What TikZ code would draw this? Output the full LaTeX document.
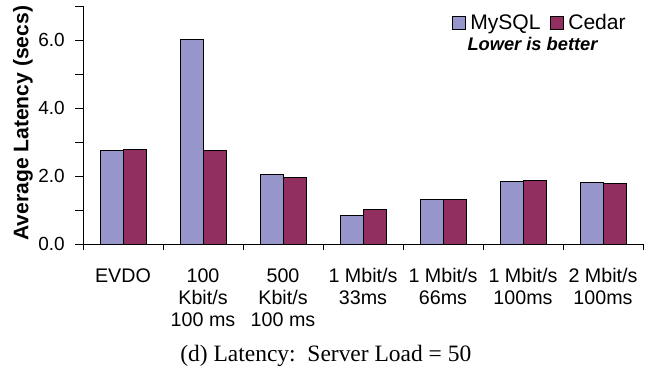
\documentclass[tikz,border=0pt]{standalone}
\usepackage{fontspec}
\setmainfont{Liberation Sans}
\newfontfamily\capfont{Liberation Serif}
\definecolor{mysqlfill}{RGB}{150,150,202}
\definecolor{cedarfill}{RGB}{145,48,96}

\begin{document}
\begin{tikzpicture}[x=2cm, y=0.85cm,
    mysqlbar/.style={draw=black, fill=mysqlfill, line width=0.6pt},
    cedarbar/.style={draw=black, fill=cedarfill, line width=0.6pt},
    ticklabel/.style={anchor=east, inner sep=0pt, font=\fontsize{13.5}{15}\selectfont},
    catlabel/.style={anchor=north, inner sep=0pt, align=center, font=\fontsize{14}{15.6}\selectfont},
    keybox/.style={draw=black, line width=0.6pt, minimum size=0.32cm, inner sep=0pt, anchor=south west},
    keytext/.style={anchor=base west, inner sep=0pt, font=\fontsize{15}{17}\selectfont}]

    \useasboundingbox (-1.0375,-3.756) rectangle (7.075,7.185);

    \draw[line width=0.7pt] (0,7) -- (0,0) -- (7,0);

    \draw[line width=0.7pt] (0,0) -- (-0.1,0) (0,1) -- (-0.1,1) (0,2) -- (-0.1,2) (0,3) -- (-0.1,3)
      (0,4) -- (-0.1,4) (0,5) -- (-0.1,5) (0,6) -- (-0.1,6) (0,7) -- (-0.1,7);

    \node[ticklabel] (tick0) at (-0.225,0) {0.0};
    \node[ticklabel] (tick2) at (-0.225,2) {2.0};
    \node[ticklabel] (tick4) at (-0.225,4) {4.0};
    \node[ticklabel] (tick6) at (-0.225,6) {6.0};

    \node[rotate=90, font=\fontsize{15}{17}\selectfont\bfseries] (ylabel) at (-0.75,3.56) {Average Latency (secs)};



    \begin{scope}[xshift=0cm]

      \draw[mysqlbar] (0.2125,0) rectangle (0.5,2.75);
      \draw[cedarbar] (0.5,0) rectangle (0.7875,2.78);
      \draw[line width=0.7pt] (0,0) -- (0,-0.18) (1,0) -- (1,-0.18);
      \node[catlabel] (evdo) at (0.5,-0.706) {EVDO};

    \end{scope}



    \begin{scope}[xshift=2cm]

      \draw[mysqlbar] (0.2125,0) rectangle (0.5,6.04);
      \draw[cedarbar] (0.5,0) rectangle (0.7875,2.76);
      \draw[line width=0.7pt] (1,0) -- (1,-0.18);
      \node[catlabel] (slow) at (0.5,-0.706) {100\\Kbit/s\\100 ms};

    \end{scope}



    \begin{scope}[xshift=4cm]

      \draw[mysqlbar] (0.2125,0) rectangle (0.5,2.06);
      \draw[cedarbar] (0.5,0) rectangle (0.7875,1.96);
      \draw[line width=0.7pt] (1,0) -- (1,-0.18);
      \node[catlabel] (medium) at (0.5,-0.706) {500\\Kbit/s\\100 ms};

    \end{scope}



    \begin{scope}[xshift=6cm]

      \draw[mysqlbar] (0.2125,0) rectangle (0.5,0.86);
      \draw[cedarbar] (0.5,0) rectangle (0.7875,1.03);
      \draw[line width=0.7pt] (1,0) -- (1,-0.18);
      \node[catlabel] (fast33) at (0.5,-0.706) {1 Mbit/s\\33ms};

    \end{scope}



    \begin{scope}[xshift=8cm]

      \draw[mysqlbar] (0.2125,0) rectangle (0.5,1.32);
      \draw[cedarbar] (0.5,0) rectangle (0.7875,1.32);
      \draw[line width=0.7pt] (1,0) -- (1,-0.18);
      \node[catlabel] (fast66) at (0.5,-0.706) {1 Mbit/s\\66ms};

    \end{scope}



    \begin{scope}[xshift=10cm]

      \draw[mysqlbar] (0.2125,0) rectangle (0.5,1.84);
      \draw[cedarbar] (0.5,0) rectangle (0.7875,1.89);
      \draw[line width=0.7pt] (1,0) -- (1,-0.18);
      \node[catlabel] (fast100) at (0.5,-0.706) {1 Mbit/s\\100ms};

    \end{scope}



    \begin{scope}[xshift=12cm]

      \draw[mysqlbar] (0.2125,0) rectangle (0.5,1.81);
      \draw[cedarbar] (0.5,0) rectangle (0.7875,1.79);
      \draw[line width=0.7pt] (1,0) -- (1,-0.18);
      \node[catlabel] (faster) at (0.5,-0.706) {2 Mbit/s\\100ms};

    \end{scope}



    \node[keybox, fill=mysqlfill] (mysqlkey) at (4.609,6.303) {};
    \node[keytext] (mysqltext) at (4.8375,6.303) {MySQL};
    \node[keybox, fill=cedarfill] (cedarkey) at (5.8375,6.303) {};
    \node[keytext] (cedartext) at (6.0625,6.303) {Cedar};

    \node[anchor=base, inner sep=0pt, font=\fontsize{13}{15}\selectfont\bfseries\itshape] (lower) at (5.619,5.685) {Lower is better};

    \node[anchor=base, inner sep=0pt, font=\fontsize{16.7}{19}\capfont] (caption) at (3.035,-3.453) {(d) Latency:\ \ Server Load = 50};

  \end{tikzpicture}
\end{document}
